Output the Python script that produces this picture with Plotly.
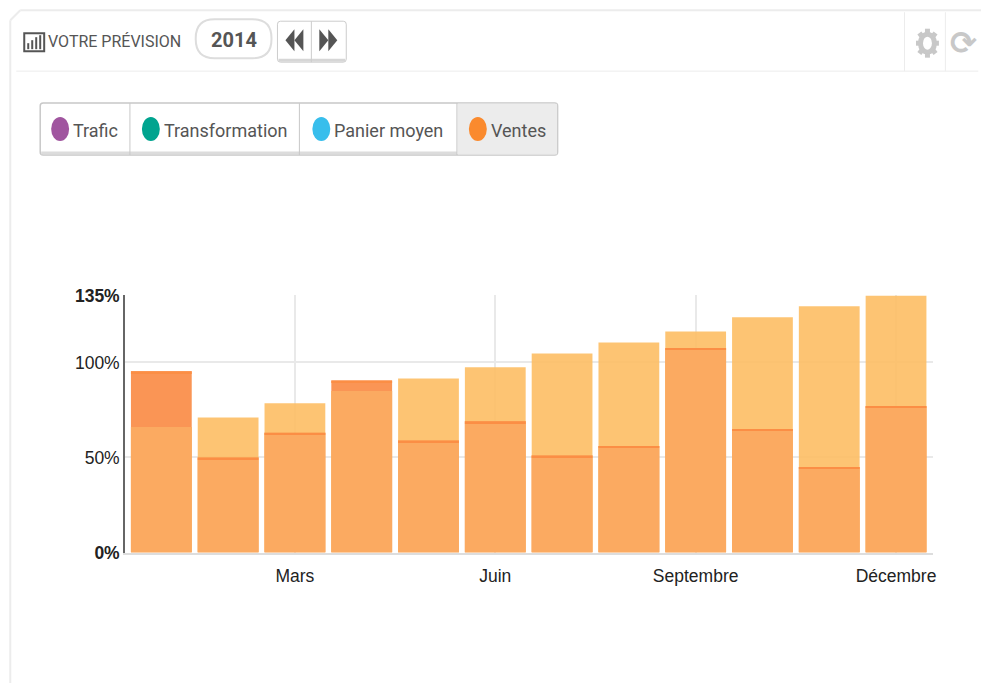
import math
import plotly.graph_objects as go

months = ["Janvier", "Février", "Mars", "Avril", "Mai", "Juin", "Juillet", "Août",
          "Septembre", "Octobre", "Novembre", "Décembre"]
forecast = [66, 71, 78.5, 85, 91.5, 97.4, 104.7, 110.5, 116.3, 123.7, 129.5, 135]
realised = [95.3, 50, 63, 90.5, 59, 69, 51, 56, 107.5, 65, 45, 77]
overlap = [min(a, b) for a, b in zip(forecast, realised)]
edge = [0.9] * 12
edge_base = [v - 0.9 for v in realised]
x_ticks = ["Mars", "Juin", "Septembre", "Décembre"]
y_ticks = [0, 50, 100, 135]
y_labels = ["<b>0%</b>", "50%", "100%", "<b>135%</b>"]
buttons = ["Trafic", "Transformation", "Panier moyen", "Ventes"]
button_colors = ["#A0559F", "#00A48F", "#38BEEC", "#FA8A2E"]

M = 8
W, H = 989 - 2 * M, 691 - 2 * M
UI = "Roboto, Liberation Sans, sans-serif"
AX = "Liberation Sans, Arial, sans-serif"
fx = lambda p: (p + 0.3 - M) / W
# calibrated against the rendered picture
fy = lambda p: 1 - ((p - 9) / 0.973 - M) / H

shapes, anns = [], []


def rect(x0, y0, x1, y1, fill="rgba(0,0,0,0)", line="#ddd", lw=1, kind="rect"):
    shapes.append(dict(type=kind, xref="paper", yref="paper", x0=fx(x0), x1=fx(x1), y0=fy(y0), y1=fy(y1),
                       fillcolor=fill, line=dict(color=line, width=lw), layer="below"))


def seg(x0, y0, x1, y1, color="#e6e6e6", lw=1):
    shapes.append(dict(type="line", xref="paper", yref="paper", x0=fx(x0), x1=fx(x1), y0=fy(y0), y1=fy(y1),
                       line=dict(color=color, width=lw), layer="below"))


def path(pts, fill):
    d = "M" + " L".join(f"{fx(a):.5f},{fy(b):.5f}" for a, b in pts) + " Z"
    shapes.append(dict(type="path", xref="paper", yref="paper", path=d, fillcolor=fill,
                       line=dict(width=0), layer="below"))


def rounded(x0, y0, x1, y1, r, fill, line, lw=1):
    k = [(x0 + r, y0), (x1 - r, y0), (x1, y0), (x1, y0 + r), (x1, y1 - r), (x1, y1), (x1 - r, y1),
         (x0 + r, y1), (x0, y1), (x0, y1 - r), (x0, y0 + r), (x0, y0)]
    p = lambda i: f"{fx(k[i][0]):.5f},{fy(k[i][1]):.5f}"
    d = (f"M{p(0)} L{p(1)} Q{p(2)} {p(3)} L{p(4)} Q{p(5)} {p(6)} L{p(7)} Q{p(8)} {p(9)} "
         f"L{p(10)} Q{p(11)} {p(0)} Z")
    shapes.append(dict(type="path", xref="paper", yref="paper", path=d, fillcolor=fill,
                       line=dict(color=line, width=lw), layer="below"))


def text(x, y, s, size, color="#555", anchor="left", family=UI):
    anns.append(dict(xref="paper", yref="paper", x=fx(x), y=fy(y), text=s, showarrow=False,
                     xanchor=anchor, yanchor="middle", font=dict(size=size, color=color, family=family)))


# Panel
seg(20, 10, 989, 10, "#ececec", 2)
seg(10, 20, 10, 691, "#ececec", 2)
seg(10, 20, 20, 10, "#ececec", 2)
seg(16, 71, 981, 71, "#ececec", 1)
seg(907, 12, 907, 71, "#ececec", 1)
seg(948, 12, 948, 71, "#ececec", 1)

# Header
rect(24, 33, 44, 51, line="#555", lw=2)
for bx, top in [(28, 43), (32, 40), (36, 37), (40, 35)]:
    seg(bx, 49, bx, top, "#555", 2)
text(46, 41, "VOTRE PRÉVISION", 16)
rounded(196, 19, 272, 58, 19, "#fff", "#ddd", 2)
text(234, 40, "<b>2014</b>", 20, "#555", "center")
rounded(278, 21, 347, 62, 3, "#fff", "#ccc", 1)
seg(279, 60, 346, 60, "#d6d6d6", 3)
seg(312, 21, 312, 62, "#ccc", 1)
for a, b in [(295, 286), (304, 295)]:
    path([(a, 29), (a, 51), (b, 40)], "#555")
for a, b in [(320, 329), (329, 338)]:
    path([(a, 29), (a, 51), (b, 40)], "#555")

# Gear icon
gx, gy = 930, 43
rect(gx - 7, gy - 9, gx + 7, gy + 9, line="#c8c8c8", lw=5, kind="circle")
for i in range(8):
    t = i * math.pi / 4
    seg(gx + 8 * math.cos(t), gy + 10 * math.sin(t), gx + 11.5 * math.cos(t), gy + 14.5 * math.sin(t), "#c8c8c8", 5)
text(966, 43, "<b>⟳</b>", 32, "#c8c8c8", "center", "DejaVu Sans")

# Button group
rounded(40, 103, 559, 155, 3, "#fff", "#c8c8c8", 1.5)
rect(459, 104, 558, 154, fill="#ececec", line="#ececec")
seg(41, 153, 458, 153, "#dcdcdc", 3)
for sep in [130, 300, 458]:
    seg(sep, 103, sep, 155, "#c8c8c8", 1)
for name, col, dot, tx in zip(buttons, button_colors, [60, 151, 322, 479], [71, 162, 333, 490]):
    rect(dot - 9, 117, dot + 9, 141, fill=col, line=col, lw=0, kind="circle")
    text(tx, 130, name, 18, "#555")

fig = go.Figure()
fig.add_bar(x=months, y=realised, width=0.91, marker=dict(color="rgba(249,137,67,0.9)", line=dict(width=0)))
fig.add_bar(x=months, y=forecast, width=0.91, marker=dict(color="rgba(253,190,100,0.9)", line=dict(width=0)))
fig.add_bar(x=months, y=overlap, width=0.91, marker=dict(color="rgba(250,167,98,0.85)", line=dict(width=0)))
fig.add_bar(x=months, y=edge, base=edge_base, width=0.91, marker=dict(color="#FB8E45", line=dict(width=0)))

fig.update_layout(
    width=W, height=H, margin=dict(l=0, r=0, t=0, b=0), barmode="overlay", showlegend=False,
    plot_bgcolor="#fff", paper_bgcolor="#fff", shapes=shapes, annotations=anns,
    font=dict(family=AX, size=17.5, color="#222"),
    xaxis=dict(domain=[fx(125), fx(936)], range=[-0.545, 11.56], type="category",
               categoryorder="array", categoryarray=months,
               tickmode="array", tickvals=x_ticks, ticktext=x_ticks,
               ticks="outside", ticklen=7, tickcolor="rgba(0,0,0,0)", showgrid=True,
               gridcolor="#e9e9e9", gridwidth=1.5, showline=True, linecolor="#ddd", linewidth=1.5, zeroline=False),
    yaxis=dict(domain=[fy(553), fy(295)], range=[0, 135.5], tickmode="array", tickvals=y_ticks,
               ticktext=y_labels, ticks="", showgrid=True, gridcolor="#e9e9e9", gridwidth=1.5,
               showline=True, linecolor="#666", linewidth=1.5, zeroline=False),
)
fig.write_html("out.html", config=dict(displayModeBar=False))
